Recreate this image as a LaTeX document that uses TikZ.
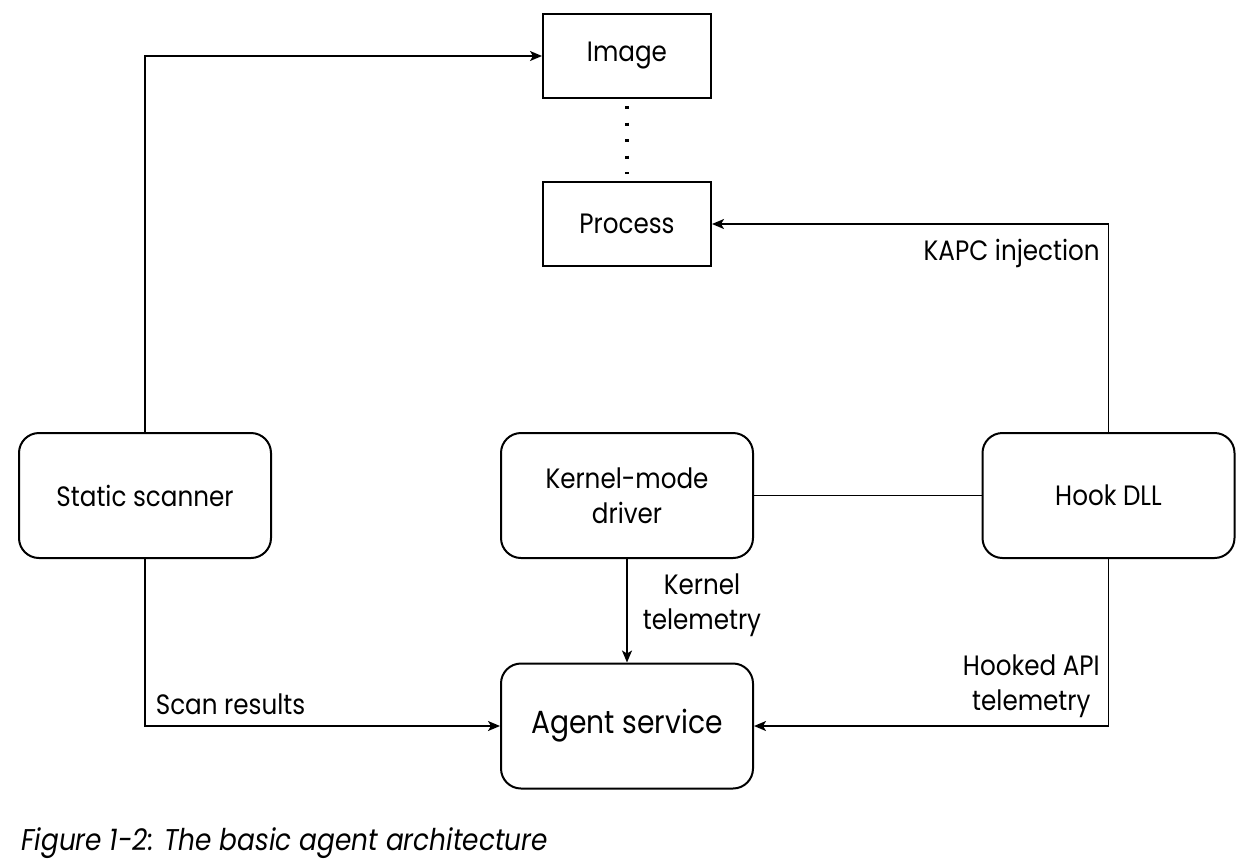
\documentclass[tikz,border=0pt]{standalone}
\usepackage{fontspec}
\setmainfont[FakeStretch=0.88]{Poppins}
\usetikzlibrary{arrows.meta}

\begin{document}
\begin{tikzpicture}[x=0.5pt,y=-0.5pt,
    every node/.style={font=\fontsize{14}{17.5}\selectfont},
    plainbox/.style={draw,line width=1pt,minimum width=84pt,minimum height=42pt},
    unitbox/.style={draw,line width=1pt,rounded corners=10pt,
      minimum width=126pt,minimum height=62.5pt,align=center},
    link/.style={line width=0.8pt},
    arr/.style={link,-{Stealth[length=6pt,width=5pt,inset=1.5pt]}},
    lbl/.style={inner sep=0pt,align=center}]
  \useasboundingbox (0,0) rectangle (1242,858);

  % Coordinates
  \coordinate (img) at (627,56);
  \coordinate (proc) at (627,224);
  \coordinate (scan) at (145,495.5);
  \coordinate (kern) at (627,495.5);
  \coordinate (hook) at (1108.5,495.5);
  \coordinate (agent) at (627,726);

  % units
  \node[plainbox] (image) at (img) {Image};
  \node[plainbox] (process) at (proc) {Process};
  \node[unitbox] (scanner) at (scan) {Static scanner};
  \node[unitbox] (driver) at (kern) {Kernel-mode\\driver};
  \node[unitbox] (hookdll) at (hook) {Hook DLL};
  \node[unitbox,font=\fontsize{16}{19}\selectfont] (service) at (agent) {Agent service};

  % connecting the units
  \draw[link,line width=1.6pt,dash pattern=on 1.6pt off 6.65pt,
    shorten <=3.5pt,shorten >=3.5pt] (image) -- (process);
  \draw[arr] (scanner) |- (image);
  \draw[arr] (scanner) |- (service)
    node[lbl,pos=0.5,anchor=base west,xshift=5pt,yshift=6pt] (scanlbl) {Scan results};
  \draw[arr] (driver) -- (service)
    node[lbl,midway,anchor=west,xshift=7.5pt,yshift=3pt] (kernlbl) {Kernel\\telemetry};
  \draw[link] (driver) -- (hookdll);
  \draw[arr] (hookdll) |- (process)
    node[lbl,pos=0.5,anchor=north east,xshift=-4pt,yshift=-7pt] (kapclbl) {KAPC injection};
  \draw[arr] (hookdll) |- (service)
    node[lbl,pos=0.5,anchor=south east,xshift=-4pt,yshift=3.5pt] (apilbl) {Hooked API\\telemetry};

  % caption
  \node[lbl,anchor=west,font=\fontsize{15}{18}\selectfont\itshape] (caption) at (21,843)
    {Figure 1-2: The basic agent architecture};

\end{tikzpicture}
\end{document}
